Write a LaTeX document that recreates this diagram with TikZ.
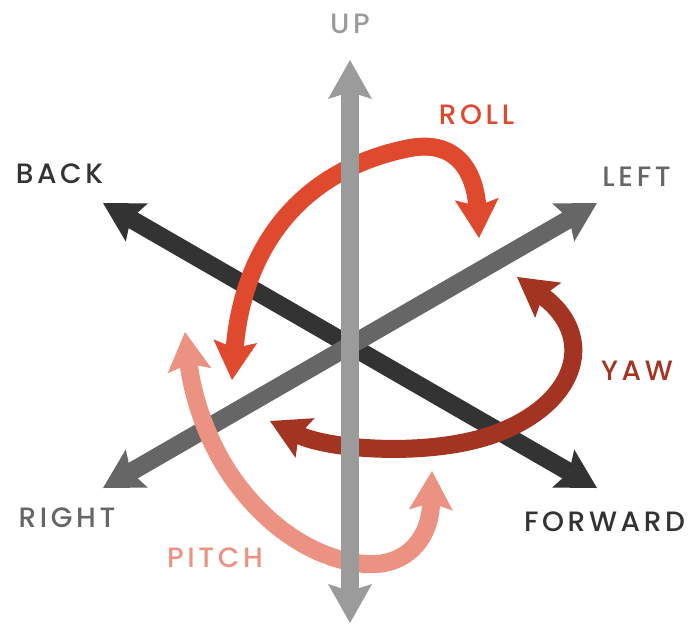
\documentclass[tikz,border=0pt]{standalone}
\usepackage{fontspec}
\setmainfont{Poppins}[LetterSpace=13, UprightFont=* Medium]
\usetikzlibrary{arrows.meta}
\definecolor{axlight}{HTML}{9B9B9B}
\definecolor{axdark}{HTML}{333333}
\definecolor{axmid}{HTML}{666666}
\definecolor{rollc}{HTML}{DF4A2F}
\definecolor{yawc}{HTML}{A33422}
\definecolor{pitchc}{HTML}{EC9283}
\tikzset{
  hd/.tip={Stealth[length=39pt,width=44pt,inset=7pt,line width=0pt]},
  band/.style={line width=18pt, hd-hd},
  lbl/.style={font=\fontsize{28}{28}\selectfont, inner sep=0pt, anchor=center}
}
\begin{document}
\begin{tikzpicture}[x=1pt,y=-1pt]
\useasboundingbox (0,0) rectangle (700,624);
% axis end points
\coordinate (upT) at (350,60);
\coordinate (downT) at (350,623);
\coordinate (backT) at (103,203);
\coordinate (fwdT) at (597,488);
\coordinate (leftT) at (597,203);
\coordinate (rightT) at (103,488);
% axes
\draw[band, axdark] (backT) -- (fwdT);
\draw[band, axmid] (leftT) -- (rightT);
% rotation arrows
\coordinate (rollA) at (232,380);
\coordinate (rollB) at (479,238);
\draw[band, rollc] (rollA) .. controls (243,250) and (298,170) .. (410,148)
   .. controls (465,138) and (476,185) .. (rollB);
\coordinate (yawA) at (270,421);
\coordinate (yawB) at (517,277);
\draw[band, yawc] (yawA) .. controls (330,450) and (435,458) .. (500,432)
   .. controls (580,400) and (595,335) .. (yawB);
\coordinate (pitchA) at (185,332);
\coordinate (pitchB) at (432,471);
\draw[band, pitchc] (pitchA) .. controls (193,400) and (210,450) .. (240,488)
   .. controls (275,533) and (320,560) .. (365,564)
   .. controls (405,567) and (430,540) .. (pitchB);
% vertical axis on top
\draw[band, axlight] (upT) -- (downT);
% labels
\node[lbl, text=axlight] (up) at (350,24) {UP};
\node[lbl, text=axdark] (back) at (59.5,173.5) {BACK};
\node[lbl, text=axmid] (left) at (636.5,177) {LEFT};
\node[lbl, text=rollc] (roll) at (476.5,114.5) {ROLL};
\node[lbl, text=axmid] (right) at (67,517.5) {RIGHT};
\node[lbl, text=pitchc] (pitch) at (215,558) {PITCH};
\node[lbl, text=yawc] (yaw) at (637,371) {YAW};
\node[lbl, text=axdark] (fwd) at (604.5,521.5) {FORWARD};
\end{tikzpicture}
\end{document}
